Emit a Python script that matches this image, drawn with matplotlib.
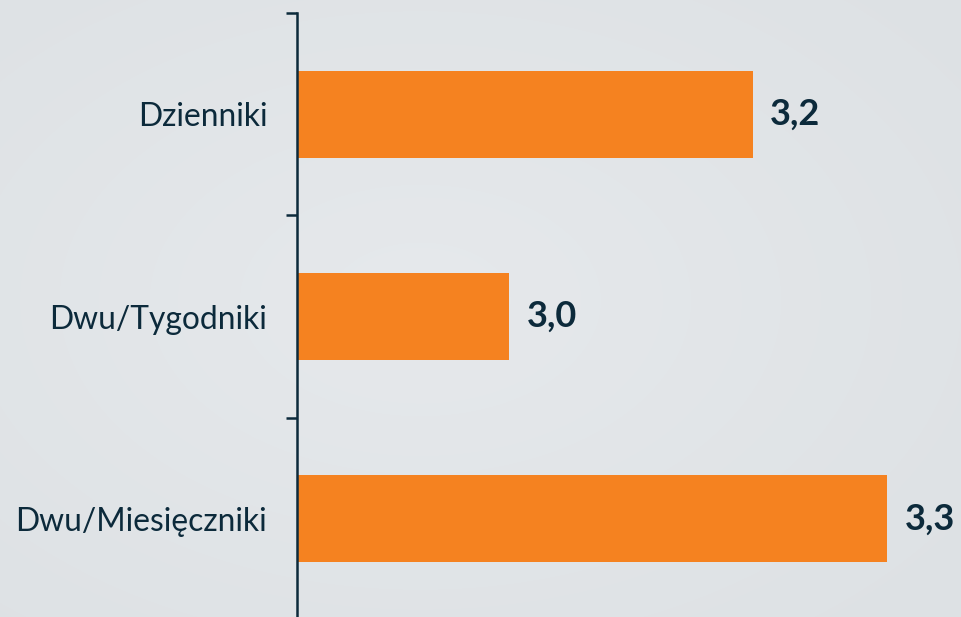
import numpy as np
import matplotlib.pyplot as plt

categories = ["Dzienniki", "Dwu/Tygodniki", "Dwu/Miesięczniki"]
values = [3.21, 3.007, 3.322]
labels = ["3,2", "3,0", "3,3"]

navy = "#0c2a3b"
orange = "#f58220"

fig = plt.figure(figsize=(9.62, 6.17), dpi=100)

# radial grey background
bg = fig.add_axes([0, 0, 1, 1], zorder=-10)
yy, xx = np.mgrid[0:617, 0:962]
r = np.sqrt(((xx - 420) / 962) ** 2 + ((yy - 300) / 617) ** 2)
bg.imshow(r, cmap=plt.matplotlib.colors.LinearSegmentedColormap.from_list(
    "bg", ["#e6e9ec", "#dde1e4"]), aspect="auto", vmin=0, vmax=0.75)
bg.axis("off")

ax = fig.add_axes([297 / 962, 1 - 620 / 617, 665 / 962, 607 / 617])
ax.patch.set_alpha(0)
y = np.arange(len(categories))
ax.barh(y, values, height=0.43, color=orange, zorder=2)
ax.set_xlim(2.83, 2.83 + 665 / 1200)
ax.set_ylim(2.5, -0.5)

for yi, v, lab in zip(y, values, labels):
    ax.text(v + 17 / 1200, yi, lab, va="center", ha="left", fontsize=26,
            fontweight="bold", color=navy, family="Lato")

ax.set_yticks(y)
ax.set_yticklabels(categories, fontsize=22.9, color=navy, family="Lato")
ax.tick_params(axis="y", length=0, pad=21.5)
ax.set_yticks([-0.5, 0.5, 1.5, 2.5], minor=True)
ax.tick_params(axis="y", which="minor", length=8, width=1.8, color=navy)
ax.set_xticks([])
for s in ["top", "right", "bottom"]:
    ax.spines[s].set_visible(False)
ax.spines["left"].set_color(navy)
ax.spines["left"].set_linewidth(1.8)

fig.savefig("out.png", dpi=100)
